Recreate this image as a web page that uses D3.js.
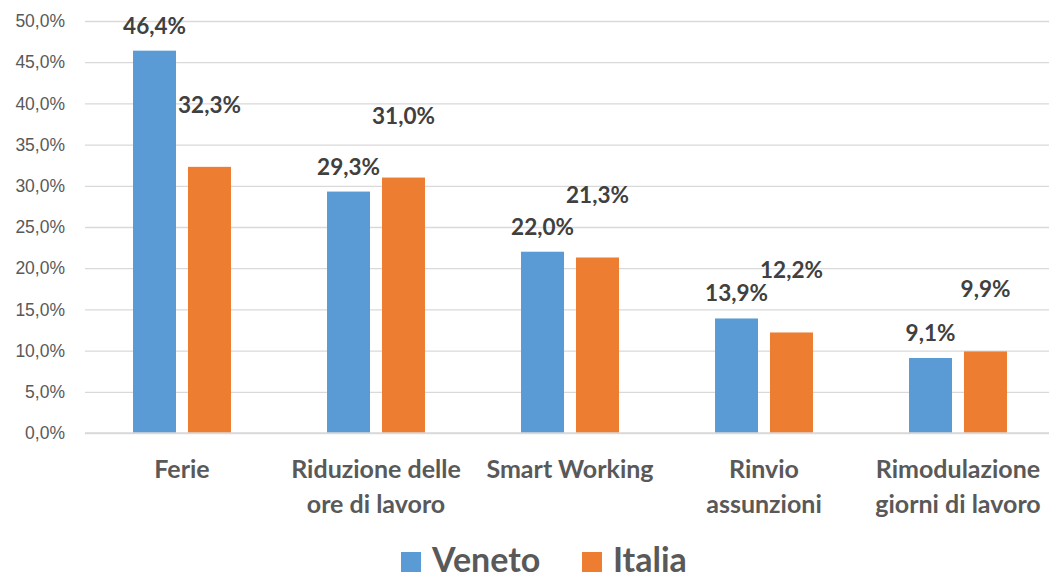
<!DOCTYPE html>
<html>
<head>
<meta charset="utf-8">
<script src="https://cdn.jsdelivr.net/npm/d3@7"></script>
<style>
  body { margin: 0; background: #fff; }
  svg { font-family: Lato, "Open Sans", sans-serif; }
</style>
</head>
<body>
<div id="chart"><svg></svg></div>
<script>
// data
const categories = ["Ferie", "Riduzione delle ore di lavoro", "Smart Working", "Rinvio assunzioni", "Rimodulazione giorni di lavoro"];
const categoryLines = [["Ferie"], ["Riduzione delle", "ore di lavoro"], ["Smart Working"], ["Rinvio", "assunzioni"], ["Rimodulazione", "giorni di lavoro"]];
const series = ["Veneto", "Italia"];
const veneto = [0.464, 0.293, 0.220, 0.139, 0.091];
const italia = [0.323, 0.310, 0.213, 0.122, 0.099];
const yTicks = [0, 0.05, 0.10, 0.15, 0.20, 0.25, 0.30, 0.35, 0.40, 0.45, 0.50];

const colors = { Veneto: "#5b9bd5", Italia: "#ed7d31" };
const values = { Veneto: veneto, Italia: italia };

const W = 1049, H = 579;
const plotLeft = 85, plotRight = 1055, plotTop = 21, plotBottom = 433;

const locale = d3.formatLocale({ decimal: ",", thousands: ".", grouping: [3], currency: ["", "€"] });
const fmtTick = locale.format(".1%");

const svg = d3.select("#chart svg").attr("width", W).attr("height", H);

const x0 = d3.scaleBand().domain(categories).range([plotLeft, plotRight])
    .paddingInner(0.495).paddingOuter(0.2475);
const x1 = d3.scaleBand().domain(series).range([0, x0.bandwidth()])
    .paddingInner(0.218).paddingOuter(0);
const y = d3.scaleLinear().domain([0, 0.5]).range([plotBottom, plotTop]);

// grid + y axis
const yAxis = d3.axisLeft(y).tickValues(yTicks).tickFormat(fmtTick)
    .tickSizeInner(-(W - plotLeft)).tickSizeOuter(0).tickPadding(20);
const gy = svg.append("g").attr("transform", `translate(${plotLeft},0)`).call(yAxis);
gy.select(".domain").remove();
gy.selectAll(".tick line").attr("stroke", "#d9d9d9").attr("stroke-width", 1.3);
gy.selectAll(".tick text").attr("fill", "#595959").attr("font-size", 17.5).attr("x", -20);

// bars
const groups = svg.selectAll(".grp").data(categories).enter().append("g")
    .attr("class", "grp")
    .attr("transform", d => `translate(${x0(d)},0)`);

series.forEach(s => {
  groups.append("rect")
    .attr("x", x1(s))
    .attr("y", (d, i) => y(values[s][i]))
    .attr("width", x1.bandwidth())
    .attr("height", (d, i) => y(0) - y(values[s][i]))
    .attr("fill", colors[s]);
});

// baseline
svg.append("line").attr("x1", plotLeft).attr("x2", W).attr("y1", y(0)).attr("y2", y(0))
  .attr("stroke", "#d9d9d9").attr("stroke-width", 1.5);

// value labels (Italia labels were moved up in the original)
const labelShift = { Veneto: 17, Italia: 54 };
const fmtVal = locale.format(".1%");
series.forEach(s => {
  groups.append("text")
    .attr("x", x1(s) + x1.bandwidth() / 2)
    .attr("y", (d, i) => y(values[s][i]) - labelShift[s])
    .attr("text-anchor", "middle")
    .attr("font-size", 22.5)
    .attr("font-weight", "bold")
    .attr("fill", "#404040")
    .text((d, i) => fmtVal(values[s][i]));
});

// category labels
categories.forEach((c, i) => {
  const t = svg.append("text")
    .attr("text-anchor", "middle")
    .attr("font-size", 25)
    .attr("font-weight", "bold")
    .attr("fill", "#595959");
  categoryLines[i].forEach((line, j) => {
    t.append("tspan")
      .attr("x", x0(c) + x0.bandwidth() / 2)
      .attr("y", 478 + j * 35)
      .text(line);
  });
});

// legend
const legend = svg.append("g").attr("transform", "translate(401,552)");
let lx = 0;
series.forEach(s => {
  const g = legend.append("g").attr("transform", `translate(${lx},0)`);
  g.append("rect").attr("width", 20).attr("height", 20).attr("fill", colors[s]);
  g.append("text").attr("x", 31).attr("y", 20)
    .attr("font-size", 34).attr("font-weight", "bold").attr("fill", "#595959").text(s);
  lx += 181;
});
</script>
</body>
</html>
